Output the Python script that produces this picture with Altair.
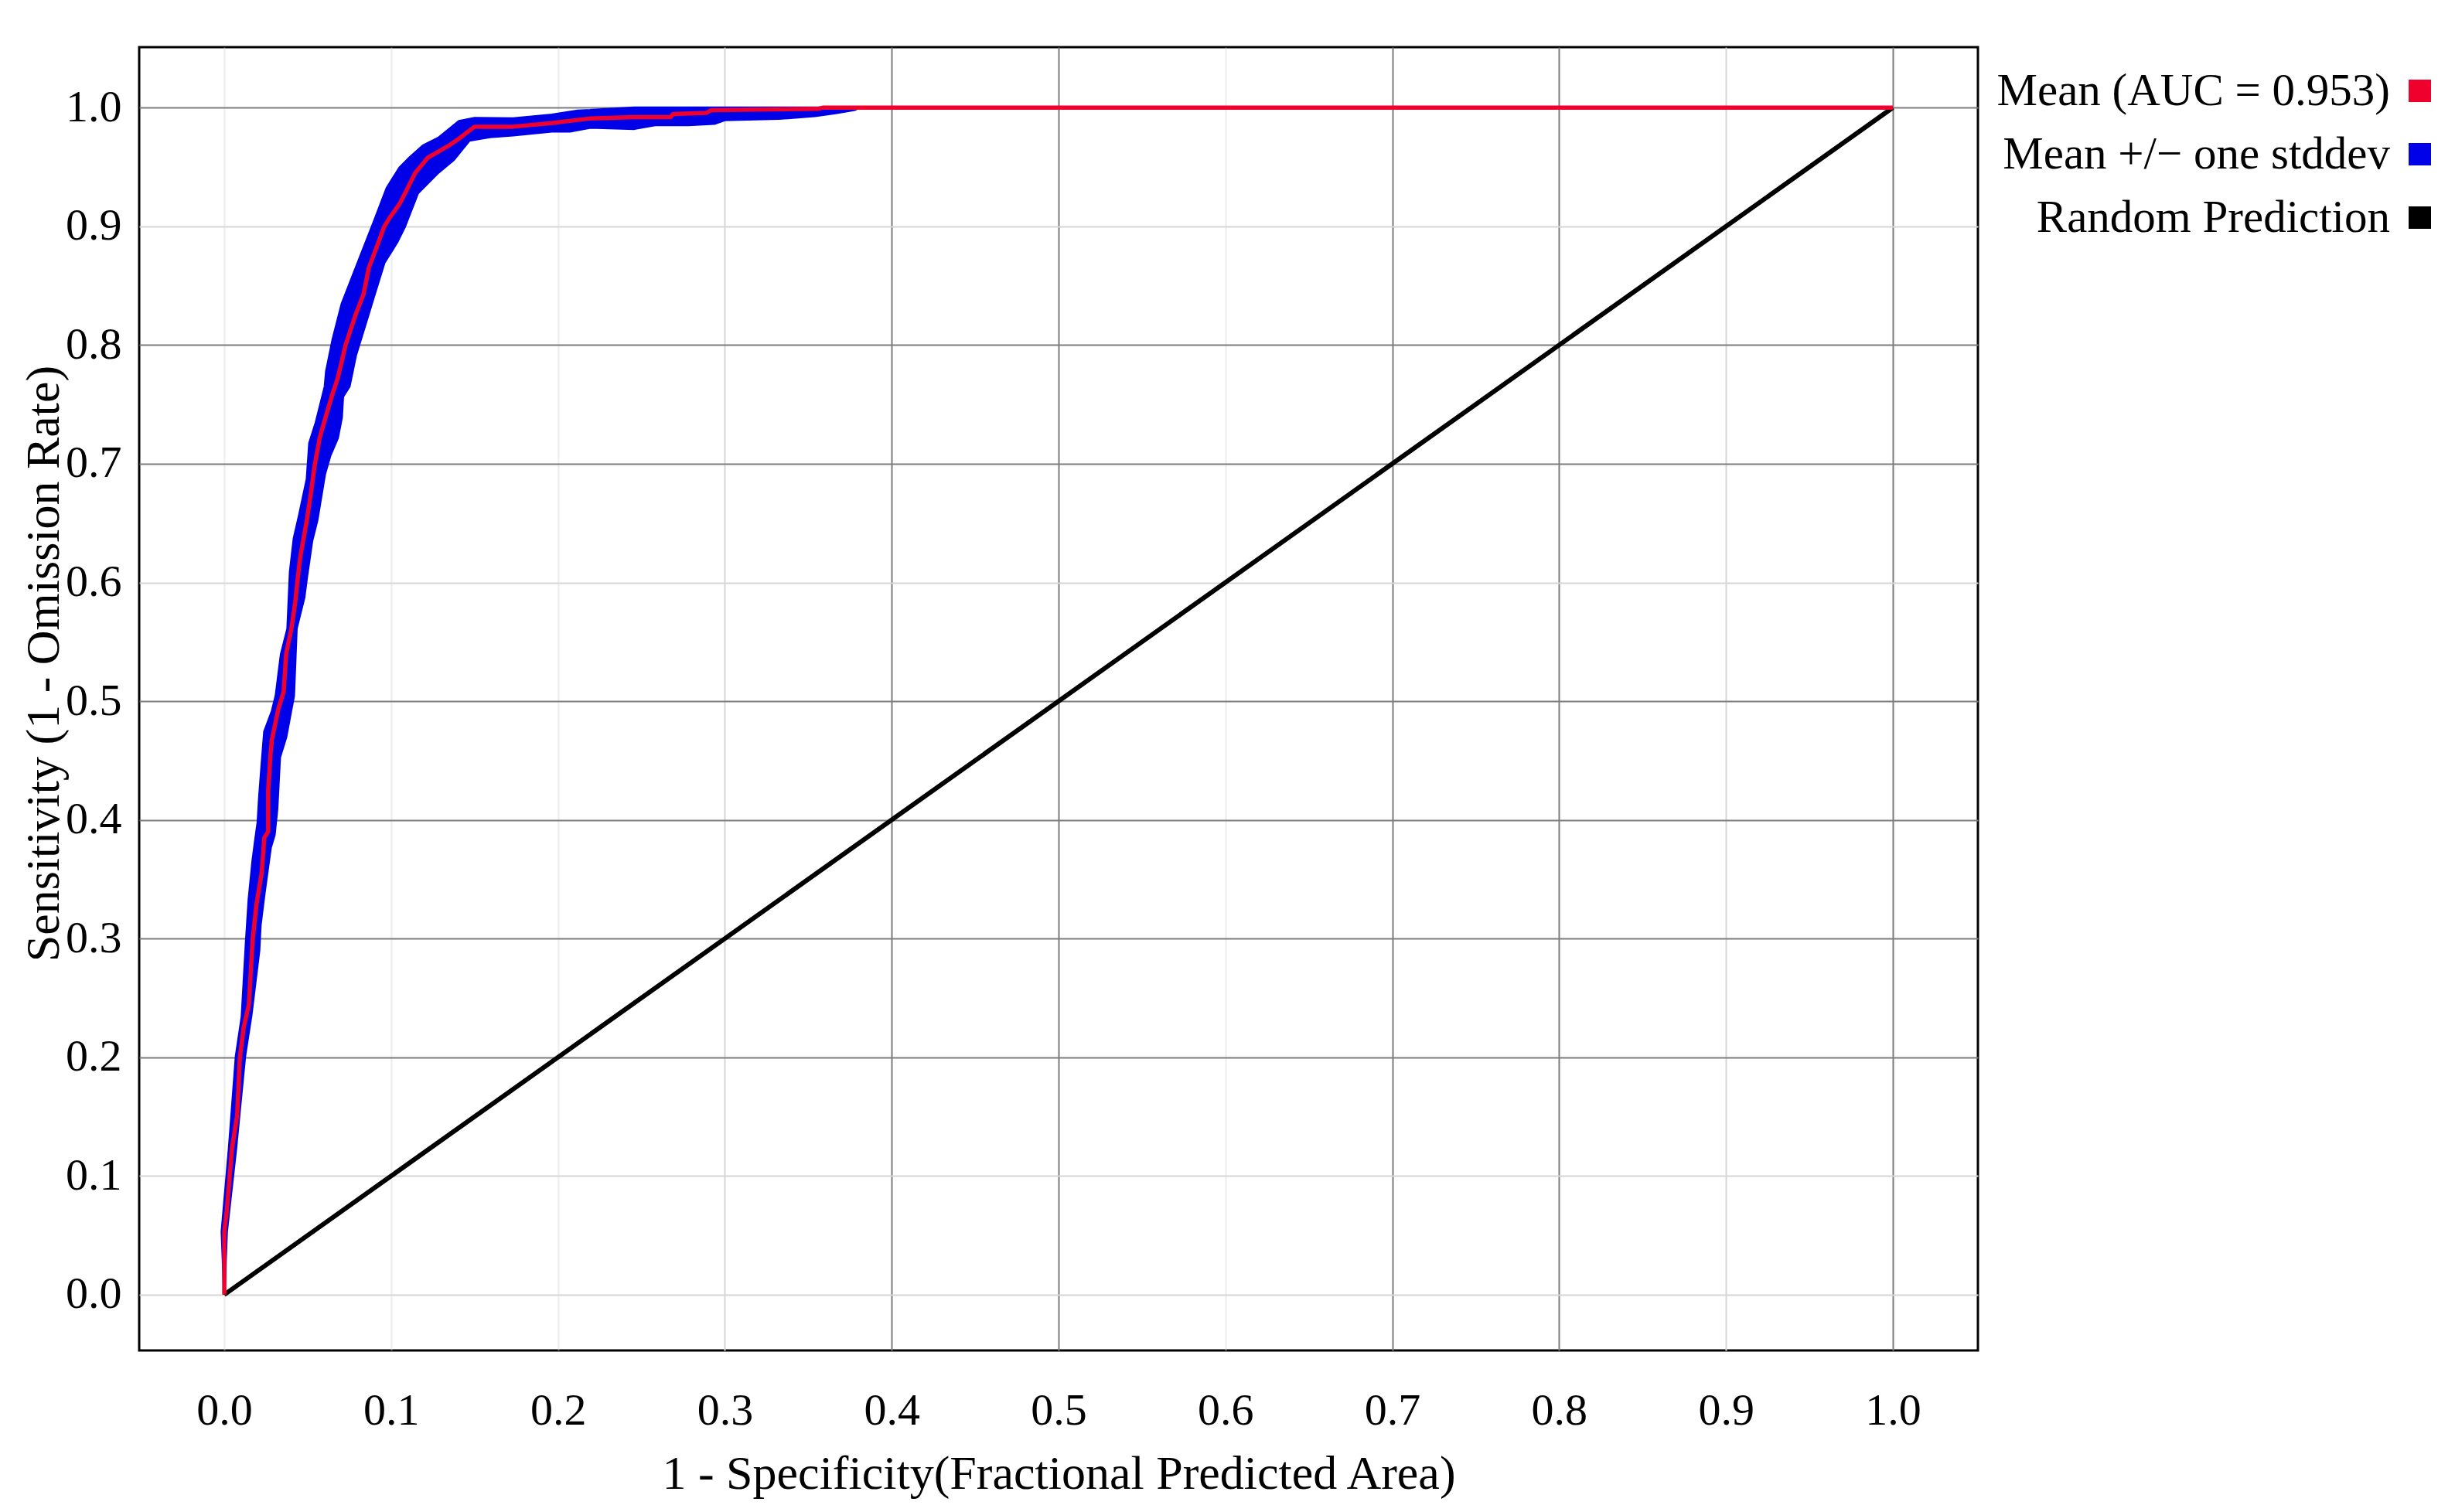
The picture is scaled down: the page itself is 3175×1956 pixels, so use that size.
import altair as alt
import pandas as pd

# ---------------- data ----------------
TICKS = [0.0, 0.1, 0.2, 0.3, 0.4, 0.5, 0.6, 0.7, 0.8, 0.9, 1.0]
SERIES = ["Mean (AUC = 0.953)", "Mean +/\u2212 one stddev", "Random Prediction"]
COLORS = ["#f0002c", "#0000e8", "#000000"]

mean_x = [0, 0, 0.0015, 0.0046, 0.0077, 0.0093, 0.0116, 0.0147, 0.017, 0.0193,
          0.0224, 0.024, 0.0263, 0.0263, 0.0278, 0.0286, 0.0325, 0.0356, 0.0371, 0.0402,
          0.0425, 0.0441, 0.0456, 0.0495, 0.0518, 0.0541, 0.0572, 0.0611, 0.0649, 0.068,
          0.0727, 0.0788, 0.0835, 0.0866, 0.0912, 0.0959, 0.099, 0.1051, 0.1098, 0.1144,
          0.1221, 0.1345, 0.1407, 0.150, 0.173, 0.196, 0.2195, 0.246, 0.2675, 0.269,
          0.289, 0.292, 0.3556, 0.3587, 1.0]
mean_y = [0, 0.053, 0.0705, 0.123, 0.151, 0.199, 0.225, 0.244, 0.299, 0.329,
          0.355, 0.385, 0.390, 0.4245, 0.457, 0.468, 0.494, 0.508, 0.540, 0.561,
          0.583, 0.6045, 0.622, 0.6525, 0.674, 0.698, 0.722, 0.741, 0.759, 0.772,
          0.800, 0.826, 0.843, 0.865, 0.882, 0.900, 0.907, 0.919, 0.932, 0.945,
          0.958, 0.968, 0.974, 0.984, 0.984, 0.987, 0.991, 0.992, 0.992, 0.9946,
          0.9957, 0.998, 0.999, 1.0, 1.0]

# upper (left) edge of the +/- one stddev band
upper_x = [0, -0.0015, 0.0028, 0.007, 0.0105, 0.0131, 0.0147, 0.017, 0.0186, 0.0201,
           0.0209, 0.0224, 0.024, 0.0286, 0.0309, 0.034, 0.0379, 0.0394, 0.0417, 0.0449,
           0.0495, 0.051, 0.0549, 0.0588, 0.0603, 0.0611, 0.0649, 0.0704, 0.0788, 0.0897,
           0.0974, 0.1051, 0.1113, 0.1191, 0.1283, 0.1407, 0.150, 0.1731, 0.1963, 0.2118,
           0.2458, 0.3803]
upper_y = [0, 0.053, 0.1226, 0.2008, 0.234, 0.2984, 0.3332, 0.3658, 0.3831, 0.3983,
           0.4179, 0.446, 0.4743, 0.4916, 0.5047, 0.5394, 0.5611, 0.6088, 0.637, 0.6566,
           0.687, 0.7174, 0.7347, 0.7565, 0.7651, 0.778, 0.8042, 0.8346, 0.8649, 0.904,
           0.9323, 0.9496, 0.9583, 0.9681, 0.9746, 0.9887, 0.9913, 0.9909, 0.9941, 0.9974,
           1.0, 1.0]

# lower (right) edge of the band
lower_x = [0, 0.0015, 0.007, 0.0124, 0.0162, 0.0209, 0.0217, 0.024, 0.0278, 0.0301,
           0.0317, 0.0333, 0.0371, 0.0394, 0.0417, 0.0433, 0.0479, 0.0495, 0.0526, 0.0557,
           0.0603, 0.0634, 0.068, 0.0704, 0.0711, 0.075, 0.0788, 0.085, 0.0897, 0.0959,
           0.1036, 0.1082, 0.116, 0.1283, 0.1376, 0.1469, 0.1592, 0.1731, 0.1963, 0.2072,
           0.2195, 0.2458, 0.2582, 0.2783, 0.2937, 0.300, 0.3324, 0.354, 0.3664, 0.378,
           0.3803]
lower_y = [0, 0.053, 0.1226, 0.2008, 0.2355, 0.2898, 0.3115, 0.3375, 0.3766, 0.3874,
           0.4091, 0.4526, 0.4699, 0.4873, 0.5047, 0.5611, 0.5872, 0.6045, 0.6349, 0.6523,
           0.6913, 0.7065, 0.7217, 0.7391, 0.7565, 0.7651, 0.7911, 0.8194, 0.8411, 0.8693,
           0.8867, 0.8997, 0.9279, 0.9453, 0.9562, 0.9724, 0.9753, 0.9768, 0.980, 0.980,
           0.9833, 0.9822, 0.9854, 0.9854, 0.9865, 0.9896, 0.9907, 0.993, 0.9955, 0.9983,
           1.0]

diag_x = [0.0, 1.0]
diag_y = [0.0, 1.0]

# ---------------- tables ----------------
mean_df = pd.DataFrame({"x": mean_x, "y": mean_y, "i": range(len(mean_x)), "series": SERIES[0]})
poly_x = upper_x + lower_x[::-1]
poly_y = upper_y + lower_y[::-1]
band_df = pd.DataFrame({"x": poly_x, "y": poly_y, "i": range(len(poly_x)), "series": SERIES[1]})
diag_df = pd.DataFrame({"x": diag_x, "y": diag_y, "i": range(len(diag_x)), "series": SERIES[2]})

FONT = "Liberation Serif"

xscale = alt.Scale(domain=[-0.051, 1.051], nice=False, zero=False)
yscale = alt.Scale(domain=[-0.047, 1.051], nice=False, zero=False)

x_axis = alt.Axis(
    values=TICKS, format=".1f", title="1 - Specificity(Fractional Predicted Area)",
    ticks=False, tickSize=0, domain=False, labelPadding=95, labelBaseline="alphabetic",
    titleY=178, titleBaseline="alphabetic", titleFontSize=62,
    gridWidth=2,
    gridColor={"condition": {"test": "indexof([0,1,2,3,6,9], round(datum.value*10)) >= 0",
                             "value": "#d6d6d6"}, "value": "#7d7d7d"},
    gridOpacity={"condition": {"test": "indexof([0,1,2,6], round(datum.value*10)) >= 0",
                               "value": 0.45}, "value": 1},
)
y_axis = alt.Axis(
    values=TICKS, format=".1f", title="Sensitivity (1 - Omission Rate)",
    ticks=False, tickSize=0, domain=False, labelPadding=23,
    titleX=-124, titleY=797, titleBaseline="middle", titleAlign="center", titleFontSize=62,
    gridWidth=2,
    gridColor={"condition": {"test": "indexof([0,1,6,9], round(datum.value*10)) >= 0",
                             "value": "#d6d6d6"}, "value": "#7d7d7d"},
)

leg = alt.Legend(
    title=None, orient="none", legendX=2920, legendY=27,
    symbolType="square", symbolSize=841, symbolStrokeWidth=0, symbolOpacity=1,
    labelFont=FONT, labelFontSize=59, labelColor="black",
    labelAlign="right", labelOffset={"expr": "-68"}, labelLimit=0, rowPadding=22, padding=0,
)
cscale = alt.Scale(domain=SERIES, range=COLORS)

X = alt.X("x:Q", scale=xscale, axis=x_axis)
Y = alt.Y("y:Q", scale=yscale, axis=y_axis)

band = alt.Chart(band_df).mark_line(stroke=COLORS[1], strokeWidth=3, strokeJoin="round").encode(
    x=X, y=Y, order=alt.Order("i:Q"),
    fill=alt.Fill("series:N", scale=cscale, legend=leg),
)
diag = alt.Chart(diag_df).mark_line(strokeWidth=6).encode(
    x=X, y=Y, order=alt.Order("i:Q"),
    color=alt.Color("series:N", scale=cscale, legend=leg),
)
mean = alt.Chart(mean_df).mark_line(strokeWidth=5.5, strokeJoin="round").encode(
    x=X, y=Y, order=alt.Order("i:Q"),
    color=alt.Color("series:N", scale=cscale, legend=leg),
)

chart = (
    alt.layer(band, diag, mean)
    .properties(width=2378, height=1686,
                autosize=alt.AutoSizeParams(type="none"),
                padding={"left": 172, "top": 53, "right": 609, "bottom": 201},
                background="white")
    .configure_view(stroke="black", strokeWidth=3)
    .configure_axis(labelFont=FONT, labelFontSize=58, labelColor="black",
                    titleFont=FONT, titleFontSize=58, titleFontWeight="normal",
                    titleColor="black")
)

chart.save("out.html", embed_options={"renderer": "svg", "actions": False})
